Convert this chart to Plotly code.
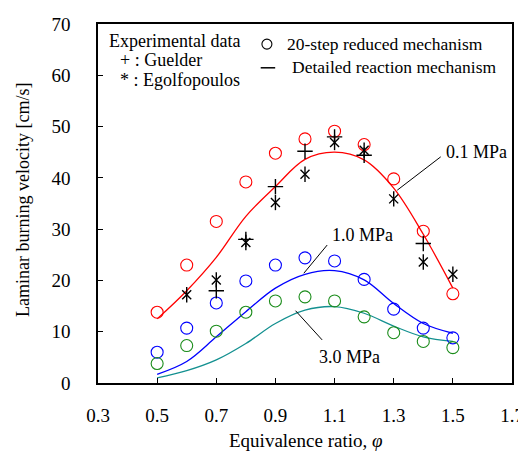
import plotly.graph_objects as go

phi = [0.5, 0.6, 0.7, 0.8, 0.9, 1.0, 1.1, 1.2, 1.3, 1.4, 1.5]

# 20-step reduced mechanism (circles)
red_pts = [13.8, 23.0, 31.5, 39.2, 44.8, 47.6, 49.1, 46.5, 39.8, 29.6, 17.4]
blue_pts = [6.0, 10.7, 15.6, 19.9, 23.0, 24.4, 23.8, 20.2, 14.4, 10.7, 8.8]
green_pts = [3.8, 7.3, 10.1, 13.8, 16.0, 16.8, 16.0, 12.9, 9.8, 8.1, 6.9]

# Detailed reaction mechanism (lines)
red_line = [12.5, 18.0, 24.5, 32.5, 38.3, 43.6, 45.0, 43.5, 38.0, 29.0, 18.5]
blue_line = [1.7, 4.2, 9.0, 13.9, 18.5, 21.2, 21.9, 20.1, 15.5, 11.6, 9.7]
teal_line = [1.0, 2.4, 4.5, 7.7, 11.6, 14.2, 14.9, 13.6, 11.1, 9.0, 8.1]

# Experimental data
guelder_phi = [0.7, 0.8, 0.9, 1.0, 1.1, 1.2, 1.4]
guelder_v = [18.0, 28.0, 38.3, 45.2, 48.0, 44.4, 27.2]
egolf_phi = [0.6, 0.7, 0.8, 0.9, 1.0, 1.1, 1.2, 1.3, 1.4, 1.5]
egolf_v = [17.2, 20.1, 27.4, 35.2, 40.7, 46.9, 45.4, 35.9, 23.6, 21.2]

x_ticks = [0.3, 0.5, 0.7, 0.9, 1.1, 1.3, 1.5, 1.7]
y_ticks = [0, 10, 20, 30, 40, 50, 60, 70]

FONT = "Liberation Serif, Times New Roman, serif"

fig = go.Figure()

for yv, col in [(red_line, "#FF0000"), (blue_line, "#0000FF"), (teal_line, "#139090")]:
    fig.add_trace(go.Scatter(x=phi, y=yv, mode="lines",
                             line=dict(color=col, width=1.3, shape="spline", smoothing=1.0)))

for yv, col in [(red_pts, "#FF0000"), (blue_pts, "#0000FF"), (green_pts, "#1A8C1A")]:
    fig.add_trace(go.Scatter(x=phi, y=yv, mode="markers",
                             marker=dict(symbol="circle-open", size=12, color=col,
                                         line=dict(width=1.1, color=col))))

fig.add_trace(go.Scatter(x=guelder_phi, y=guelder_v, mode="markers",
                         marker=dict(symbol="cross-thin-open", size=11, color="black",
                                     line=dict(width=1.4, color="black"))))
fig.add_trace(go.Scatter(x=egolf_phi, y=egolf_v, mode="markers",
                         marker=dict(symbol="x-thin-open", size=9, color="black",
                                     line=dict(width=1.4, color="black"))))
fig.add_trace(go.Scatter(x=egolf_phi, y=egolf_v, mode="markers",
                         marker=dict(symbol="line-ns-open", size=11, color="black",
                                     line=dict(width=1.4, color="black"))))

shapes = [
    dict(type="line", xref="x", yref="y", x0=1.312, y0=37.6, x1=1.459, y1=44.1,
         line=dict(color="black", width=1)),
    dict(type="line", xref="x", yref="y", x0=0.996, y0=21.4, x1=1.075, y1=26.9,
         line=dict(color="black", width=1)),
    dict(type="line", xref="x", yref="y", x0=0.968, y0=14.1, x1=1.058, y1=8.4,
         line=dict(color="black", width=1)),
    # legend symbols
    dict(type="circle", xref="paper", yref="paper", xsizemode="pixel", ysizemode="pixel",
         xanchor=0.408, yanchor=0.944, x0=-5, x1=5, y0=-5, y1=5,
         line=dict(color="black", width=1.1)),
    dict(type="line", xref="paper", yref="paper", x0=0.393, x1=0.428, y0=0.878, y1=0.878,
         line=dict(color="black", width=1.5)),
]

annotations = [
    dict(text="0.1 MPa", x=1.469, y=45.1, xref="x", yref="y", xanchor="left", yanchor="middle"),
    dict(text="1.0 MPa", x=1.086, y=28.8, xref="x", yref="y", xanchor="left", yanchor="middle"),
    dict(text="3.0 MPa", x=1.042, y=5.1, xref="x", yref="y", xanchor="left", yanchor="middle"),
    dict(text="Experimental data", x=0.022, y=0.953, xref="paper", yref="paper",
         xanchor="left", yanchor="middle"),
    dict(text="+ : Guelder", x=0.048, y=0.900, xref="paper", yref="paper",
         xanchor="left", yanchor="middle"),
    dict(text="* : Egolfopoulos", x=0.048, y=0.844, xref="paper", yref="paper",
         xanchor="left", yanchor="middle"),
    dict(text="20-step reduced mechanism", x=0.452, y=0.944, xref="paper", yref="paper",
         xanchor="left", yanchor="middle", font=dict(size=17.5)),
    dict(text="Detailed reaction mechanism", x=0.464, y=0.880, xref="paper", yref="paper",
         xanchor="left", yanchor="middle", font=dict(size=17.5)),
    dict(text="Equivalence ratio, <i>φ</i>", x=0.5, y=-0.159, xref="paper", yref="paper",
         xanchor="center", yanchor="middle", font=dict(size=19)),
    dict(text="Laminar burning velocity [cm/s]", x=-0.181, y=0.51, xref="paper", yref="paper",
         xanchor="center", yanchor="middle", textangle=-90, font=dict(size=18)),
]
for a in annotations:
    a["showarrow"] = False

fig.update_layout(
    width=518, height=454,
    margin=dict(l=90, r=14, t=16, b=79),
    paper_bgcolor="white", plot_bgcolor="white",
    showlegend=False,
    font=dict(family=FONT, size=18, color="black"),
    shapes=shapes,
    annotations=annotations,
    xaxis=dict(range=[0.3, 1.7], tickvals=x_ticks, ticktext=[f"{v:.1f}" for v in x_ticks],
               ticks="inside", ticklen=5, tickwidth=1, tickcolor="black",
               showline=True, linecolor="black", linewidth=1.5, mirror=True,
               showgrid=False, zeroline=False, ticklabelstandoff=14, automargin=False,
               tickfont=dict(size=19)),
    yaxis=dict(range=[0, 70], tickvals=y_ticks,
               ticks="inside", ticklen=5, tickwidth=1, tickcolor="black",
               showline=True, linecolor="black", linewidth=1.5, mirror=True,
               showgrid=False, zeroline=False, ticklabelstandoff=22, automargin=False,
               tickfont=dict(size=19)),
)

fig.write_html("out.html")
